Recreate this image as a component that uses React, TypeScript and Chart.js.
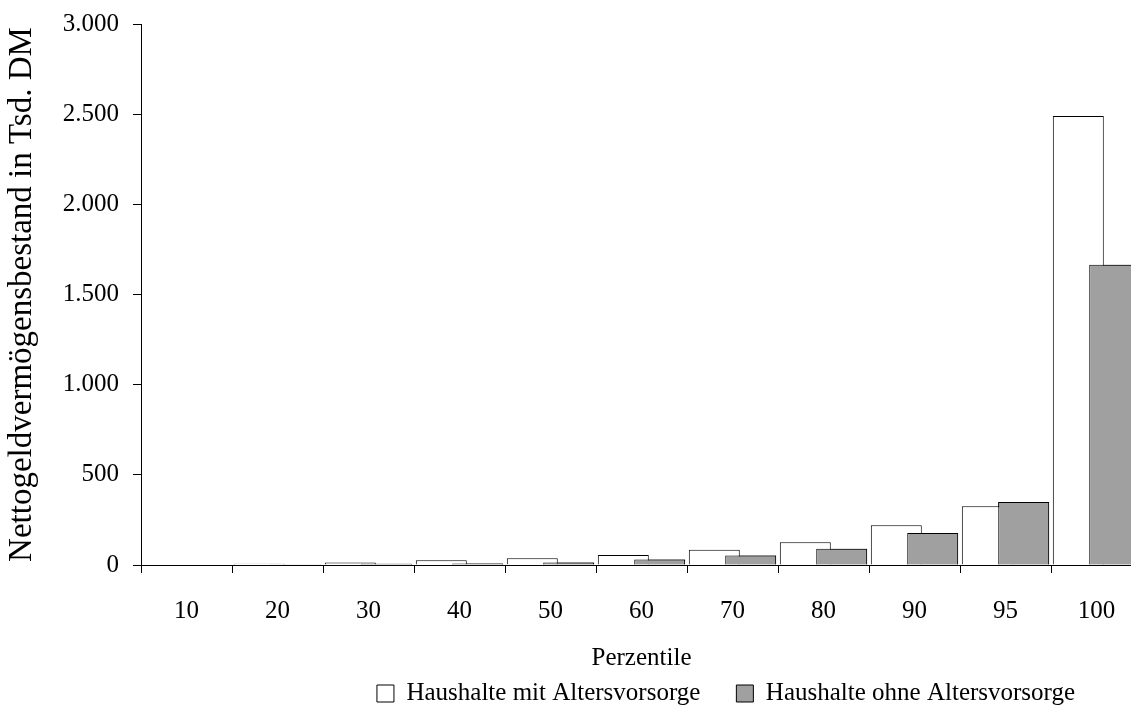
import React, { useEffect, useRef } from "react";
import { Chart, registerables } from "chart.js";

Chart.register(...registerables);

const categories = ["10", "20", "30", "40", "50", "60", "70", "80", "90", "95", "100"];
const mitAltersvorsorge = [0, 7, 14, 27, 37, 56, 85, 126, 221, 326, 2490];
const ohneAltersvorsorge = [0, 1, 7, 9, 14, 30, 52, 90, 177, 350, 1665];
const yTickValues = [0, 500, 1000, 1500, 2000, 2500, 3000];
const seriesLabels = ["Haushalte mit Altersvorsorge", "Haushalte ohne Altersvorsorge"];
const xTitle = "Perzentile";
const yTitle = "Nettogeldvermögensbestand in Tsd. DM";

const FONT = "'Liberation Serif', 'Times New Roman', serif";
const FS = 25;
const LEGEND_PAD = 36;

const fmt = (v: number) => String(v).replace(/\B(?=(\d{3})+(?!\d))/g, ".");

export default function App() {
  const ref = useRef<HTMLCanvasElement>(null);

  useEffect(() => {
    if (!ref.current) return;

    const grayOnTop = {
      id: "grayOnTop",
      afterDatasetsDraw(chart: any) {
        const meta = chart.getDatasetMeta(1);
        const a = chart.chartArea;
        const ctx = chart.ctx;
        ctx.save();
        ctx.beginPath();
        ctx.rect(a.left, a.top - 2, a.right - a.left + 2, a.bottom - a.top + 2);
        ctx.clip();
        meta.controller.draw();
        ctx.restore();
      },
    };

    const legendShift = {
      id: "legendShift",
      afterLayout(chart: any) {
        const l = chart.legend;
        if (l) {
          l.left += 155;
          l.right += 155;
          l.top += 10;
          l.bottom += 10;
        }
      },
    };

    const chart = new Chart(ref.current, {
      type: "bar",
      data: {
        labels: categories,
        datasets: [
          {
            label: seriesLabels[0],
            data: mitAltersvorsorge,
            backgroundColor: "#ffffff",
            borderColor: "#000000",
            borderWidth: 1,
            categoryPercentage: 0.8,
            barPercentage: 1.4,
          },
          {
            label: seriesLabels[1],
            data: ohneAltersvorsorge,
            backgroundColor: "#a0a0a0",
            borderColor: "#000000",
            borderWidth: 1,
            categoryPercentage: 0.8,
            barPercentage: 1.4,
          },
        ],
      },
      options: {
        animation: false,
        responsive: false,
        maintainAspectRatio: false,
        devicePixelRatio: 1,
        layout: { padding: { left: 0, right: 8, top: 22, bottom: 0 } },
        plugins: {
          tooltip: { enabled: false },
          legend: {
            position: "bottom",
            labels: {
              boxWidth: 17,
              boxHeight: 17,
              padding: LEGEND_PAD,
              color: "#000",
              font: { family: FONT, size: FS },
            },
          },
        },
        scales: {
          x: {
            type: "category",
            offset: true,
            afterFit: (scale: any) => {
              scale.height = 70;
            },
            grid: {
              display: true,
              offset: true,
              drawOnChartArea: false,
              drawTicks: true,
              tickLength: 8,
              color: "#000",
            },
            border: { display: true, color: "#000", width: 1 },
            ticks: {
              color: "#000",
              font: { family: FONT, size: FS },
              padding: 23,
              maxRotation: 0,
              autoSkip: false,
            },
            title: {
              display: true,
              text: xTitle,
              color: "#000",
              font: { family: FONT, size: FS },
              padding: { top: 0, bottom: -38 },
            },
          },
          y: {
            min: 0,
            max: 3000,
            afterBuildTicks: (scale: any) => {
              scale.ticks = yTickValues.map((v) => ({ value: v }));
            },
            afterFit: (scale: any) => {
              scale.width = 141;
            },
            grid: {
              drawOnChartArea: false,
              drawTicks: true,
              tickLength: 8,
              color: "#000",
            },
            border: { display: true, color: "#000", width: 1 },
            ticks: {
              color: "#000",
              font: { family: FONT, size: FS, lineHeight: 0.8 },
              padding: 14,
              callback: (v: any) => fmt(Number(v)),
            },
            title: {
              display: true,
              text: yTitle,
              color: "#000",
              font: { family: FONT, size: 33 },
              padding: { top: 3, bottom: 0 },
            },
          },
        },
      },
      plugins: [grayOnTop, legendShift],
    } as any);

    return () => chart.destroy();
  }, []);

  return (
    <div
      style={{
        position: "fixed",
        left: 0,
        top: 0,
        width: 1131,
        height: 706,
        overflow: "hidden",
        background: "#ffffff",
      }}
    >
      <canvas ref={ref} width={1150} height={706} style={{ display: "block" }} />
    </div>
  );
}
